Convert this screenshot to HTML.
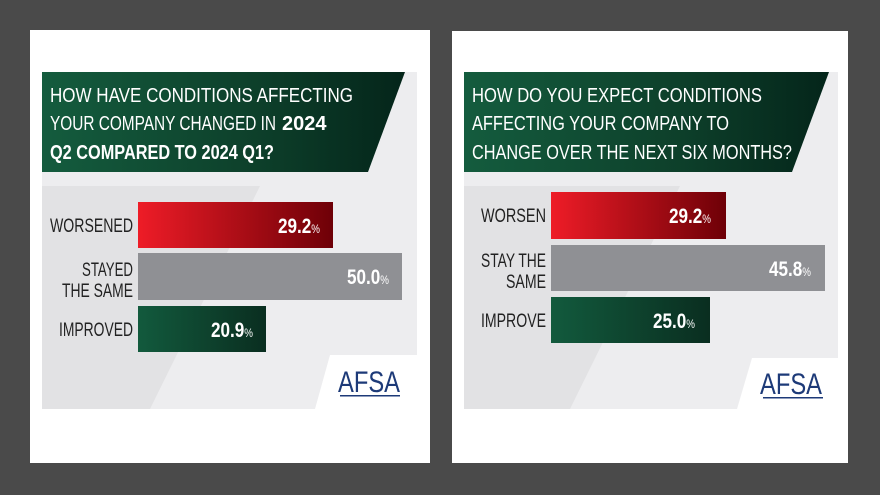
<!DOCTYPE html>
<html><head><meta charset="utf-8"><style>html,body{margin:0;padding:0;background:#4a4a4a}svg{display:block}</style></head><body>
<svg width="880" height="495" viewBox="0 0 880 495" xmlns="http://www.w3.org/2000/svg" font-family="Liberation Sans, sans-serif">
<defs>
<linearGradient id="hg" x1="0" x2="1" y1="0" y2="0"><stop offset="0" stop-color="#145c3e"/><stop offset="0.6" stop-color="#0d3f2a"/><stop offset="1" stop-color="#04251a"/></linearGradient>
<linearGradient id="rg" x1="0" x2="1"><stop offset="0" stop-color="#ee1c27"/><stop offset="1" stop-color="#6e0007"/></linearGradient>
<linearGradient id="gg" x1="0" x2="1"><stop offset="0" stop-color="#125a3d"/><stop offset="1" stop-color="#0a2e20"/></linearGradient>
</defs>
<rect width="880" height="495" fill="#4a4a4a"/>
<!-- LEFT -->
<rect x="30" y="30" width="400" height="433" fill="#fff"/>
<rect x="42" y="72" width="375" height="337" fill="#ededef"/>
<polygon points="42,186 260,186 150,409 42,409" fill="#e2e2e4"/>
<polygon points="42,72 405,72 368,172 42,172" fill="url(#hg)"/>
<g fill="#fff" font-size="20">
<text x="50" y="102" textLength="303" lengthAdjust="spacingAndGlyphs">HOW HAVE CONDITIONS AFFECTING</text>
<text x="50" y="130" textLength="226" lengthAdjust="spacingAndGlyphs">YOUR COMPANY CHANGED IN</text>
<text x="282" y="130" font-weight="bold" font-size="20">2024</text>
<text x="50" y="159" font-weight="bold" textLength="224" lengthAdjust="spacingAndGlyphs">Q2 COMPARED TO 2024 Q1?</text>
</g>
<rect x="138" y="202" width="195" height="46" fill="url(#rg)"/>
<rect x="138" y="253" width="264" height="47" fill="#8f9094"/>
<rect x="138" y="306" width="128" height="46" fill="url(#gg)"/>
<g fill="#222" font-size="19" text-anchor="end">
<text x="133" y="232" textLength="83" lengthAdjust="spacingAndGlyphs">WORSENED</text>
<text x="133" y="276" textLength="51" lengthAdjust="spacingAndGlyphs">STAYED</text>
<text x="133" y="297" textLength="71" lengthAdjust="spacingAndGlyphs">THE SAME</text>
<text x="133" y="336" textLength="74" lengthAdjust="spacingAndGlyphs">IMPROVED</text>
</g>
<g fill="#fff" font-weight="bold" font-size="21">
<text x="278" y="233" textLength="42" lengthAdjust="spacingAndGlyphs">29.2<tspan font-size="12" font-weight="normal">%</tspan></text>
<text x="347" y="284" textLength="42" lengthAdjust="spacingAndGlyphs">50.0<tspan font-size="12" font-weight="normal">%</tspan></text>
<text x="211" y="337" textLength="42" lengthAdjust="spacingAndGlyphs">20.9<tspan font-size="12" font-weight="normal">%</tspan></text>
</g>
<polygon points="330,355 417,355 417,409 315,409" fill="#fff"/>
<text x="338" y="392" fill="#1d3a78" font-size="30" textLength="62" lengthAdjust="spacingAndGlyphs">AFSA</text>
<rect x="340" y="395" width="60" height="1.5" fill="#1d3a78"/>
<!-- RIGHT -->
<rect x="452" y="31" width="396" height="432" fill="#fff"/>
<rect x="464" y="72" width="374" height="337" fill="#ededef"/>
<polygon points="464,186 680,186 570,409 464,409" fill="#e2e2e4"/>
<polygon points="464,72 829,72 792,172 464,172" fill="url(#hg)"/>
<g fill="#fff" font-size="20">
<text x="472" y="102" textLength="290" lengthAdjust="spacingAndGlyphs">HOW DO YOU EXPECT CONDITIONS</text>
<text x="472" y="130" textLength="257" lengthAdjust="spacingAndGlyphs">AFFECTING YOUR COMPANY TO</text>
<text x="472" y="159" textLength="320" lengthAdjust="spacingAndGlyphs">CHANGE OVER THE NEXT SIX MONTHS?</text>
</g>
<rect x="551" y="192" width="175" height="47" fill="url(#rg)"/>
<rect x="551" y="245" width="274" height="46" fill="#8f9094"/>
<rect x="551" y="297" width="159" height="46" fill="url(#gg)"/>
<g fill="#222" font-size="19" text-anchor="end">
<text x="546" y="222" textLength="65" lengthAdjust="spacingAndGlyphs">WORSEN</text>
<text x="546" y="267" textLength="65" lengthAdjust="spacingAndGlyphs">STAY THE</text>
<text x="546" y="288" textLength="40" lengthAdjust="spacingAndGlyphs">SAME</text>
<text x="546" y="327" textLength="65" lengthAdjust="spacingAndGlyphs">IMPROVE</text>
</g>
<g fill="#fff" font-weight="bold" font-size="21">
<text x="669" y="223" textLength="42" lengthAdjust="spacingAndGlyphs">29.2<tspan font-size="12" font-weight="normal">%</tspan></text>
<text x="769" y="276" textLength="42" lengthAdjust="spacingAndGlyphs">45.8<tspan font-size="12" font-weight="normal">%</tspan></text>
<text x="653" y="328" textLength="42" lengthAdjust="spacingAndGlyphs">25.0<tspan font-size="12" font-weight="normal">%</tspan></text>
</g>
<polygon points="752,358 838,358 838,409 737,409" fill="#fff"/>
<text x="760" y="394" fill="#1d3a78" font-size="30" textLength="62" lengthAdjust="spacingAndGlyphs">AFSA</text>
<rect x="763" y="397" width="60" height="1.5" fill="#1d3a78"/>
</svg>
</body></html>
